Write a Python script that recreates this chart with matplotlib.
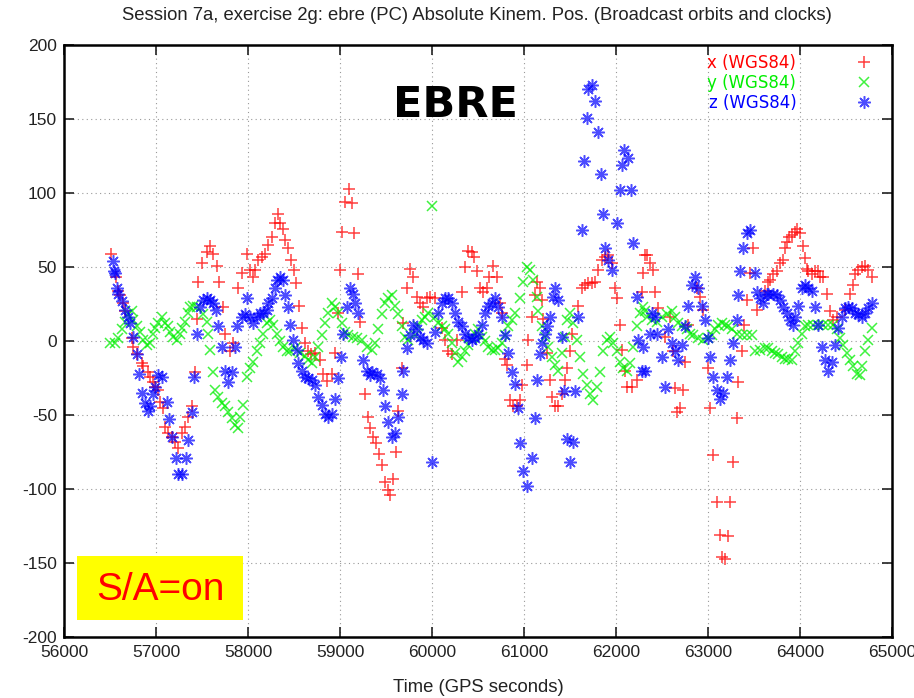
import matplotlib
matplotlib.use('Agg')
import matplotlib.pyplot as plt
from matplotlib.patches import Rectangle
from matplotlib import font_manager

# narrow gnuplot-like face if one is around, else Liberation Sans
names = {f.name for f in font_manager.fontManager.ttflist}
narrow = [n for n in ['Liberation Sans Narrow', 'DejaVu Sans Condensed', 'Liberation Sans'] if n in names]
plt.rcParams['font.family'] = narrow + ['DejaVu Sans']
plt.rcParams['axes.unicode_minus'] = False
is_narrow = bool(narrow) and narrow[0] != 'Liberation Sans'

# x (WGS84) -- red
x_t = [56511, 56565, 56587, 56609, 56641, 56663, 56739, 56750, 56793, 56848, 56859, 56913, 56935, 56967,
       56989, 57022, 57043, 57076, 57098, 57130, 57174, 57207, 57239, 57283, 57315, 57348, 57391, 57424,
       57446, 57457, 57500, 57554, 57587, 57620, 57663, 57685, 57728, 57750, 57804, 57837, 57891, 57935,
       57989, 58022, 58054, 58076, 58109, 58152, 58185, 58217, 58261, 58293, 58326, 58348, 58380, 58402,
       58435, 58467, 58500, 58522, 58554, 58587, 58620, 58652, 58685, 58728, 58783, 58815, 58859, 58913,
       58946, 58978, 59000, 59022, 59054, 59098, 59130, 59152, 59196, 59217, 59272, 59304, 59326, 59359,
       59391, 59424, 59457, 59489, 59522, 59543, 59576, 59609, 59630, 59674, 59685, 59728, 59761, 59793,
       59837, 59870, 59902, 59946, 59978, 60033, 60109, 60141, 60174, 60217, 60272, 60326, 60359, 60391,
       60435, 60457, 60489, 60522, 60554, 60598, 60620, 60663, 60707, 60739, 60761, 60794, 60815, 60848,
       60880, 60924, 60957, 60978, 61033, 61043, 61087, 61120, 61141, 61174, 61196, 61207, 61250, 61283,
       61304, 61337, 61370, 61413, 61446, 61467, 61500, 61522, 61587, 61630, 61663, 61696, 61739, 61772,
       61804, 61848, 61880, 61913, 61957, 61989, 62011, 62043, 62065, 62098, 62120, 62174, 62228, 62283,
       62293, 62315, 62337, 62370, 62402, 62424, 62457, 62533, 62587, 62620, 62641, 62663, 62696, 62728,
       62750, 62783, 62880, 62913, 62946, 63000, 63022, 63054, 63098, 63130, 63152, 63185, 63217, 63239,
       63272, 63315, 63326, 63370, 63391, 63424, 63457, 63489, 63533, 63620, 63652, 63674, 63707, 63750,
       63783, 63815, 63837, 63859, 63880, 63913, 63946, 63967, 64000, 64033, 64054, 64076, 64087, 64130,
       64163, 64196, 64217, 64250, 64293, 64326, 64359, 64402, 64489, 64543, 64576, 64598, 64630, 64674,
       64707, 64739, 64783]
x_val = [59, 43, 34, 31, 26, 20, 2, -4, -9, -15, -17, -21, -24, -28,
         -31, -33, -41, -45, -58, -62, -65, -68, -72, -62, -58, -51, -44, -21,
         15, 40, 53, 60, 64, 59, 51, 40, 23, 5, -7, -1, 36, 46,
         59, 48, 43, 48, 55, 57, 59, 65, 70, 80, 86, 80, 76, 68,
         63, 55, 48, 39, 24, 9, -1, -7, -9, -8, -13, -22, -27, -22,
         -8, 19, 48, 74, 94, 103, 93, 73, 45, 13, -36, -51, -59, -65,
         -69, -76, -84, -95, -101, -104, -93, -75, -47, -18, 12, 36, 49, 43,
         30, 26, 23, 29, 30, 29, 9, 1, -7, -9, 1, 33, 50, 61,
         60, 57, 47, 36, 33, 36, 43, 51, 43, 26, 19, -12, -16, -40,
         -44, -44, -40, -30, -16, 1, 16, 31, 40, 36, 28, 15, -8, -26,
         -38, -44, -44, -36, -26, -18, -7, 5, 24, 36, 38, 39, 39, 40,
         48, 55, 57, 58, 53, 36, 29, 11, -6, -20, -31, -31, -26, 33,
         46, 58, 58, 53, 48, 33, 22, 3, 16, -7, -32, -48, -45, -33,
         -14, 11, 36, 30, 21, -18, -45, -77, -109, -131, -146, -147, -132, -109,
         -82, -52, -28, -7, 11, 28, 46, 63, 21, 34, 40, 41, 45, 47,
         53, 55, 63, 67, 70, 72, 74, 76, 73, 64, 56, 49, 47, 45,
         47, 47, 43, 43, 32, 20, 14, 16, 21, 32, 38, 45, 48, 50,
         51, 48, 43]

# y (WGS84) -- green
y_t = [56500, 56554, 56587, 56630, 56663, 56696, 56739, 56750, 56793, 56826, 56859, 56902, 56935, 56967,
       56989, 57022, 57065, 57098, 57130, 57152, 57185, 57228, 57261, 57283, 57315, 57348, 57370, 57402,
       57446, 57511, 57554, 57565, 57587, 57620, 57641, 57674, 57717, 57750, 57783, 57826, 57859, 57891,
       57913, 57946, 57989, 58022, 58054, 58098, 58130, 58163, 58207, 58239, 58272, 58315, 58348, 58380,
       58424, 58457, 58511, 58565, 58620, 58652, 58696, 58728, 58761, 58804, 58837, 58870, 58913, 58946,
       58978, 59022, 59054, 59087, 59141, 59185, 59239, 59293, 59348, 59380, 59413, 59457, 59489, 59522,
       59565, 59598, 59630, 59674, 59707, 59739, 59815, 59848, 59891, 59924, 59957, 60000, 60033, 60065,
       60109, 60141, 60174, 60217, 60250, 60283, 60326, 60359, 60391, 60435, 60467, 60500, 60543, 60576,
       60609, 60652, 60685, 60717, 60761, 60794, 60826, 60870, 60902, 60957, 60989, 61033, 61065, 61098,
       61141, 61152, 61196, 61228, 61261, 61304, 61337, 61370, 61413, 61446, 61467, 61500, 61533, 61576,
       61609, 61641, 61685, 61717, 61750, 61793, 61826, 61859, 61902, 61935, 61967, 62011, 62043, 62076,
       62120, 62152, 62185, 62228, 62261, 62293, 62315, 62337, 62391, 62446, 62500, 62554, 62609, 62641,
       62674, 62717, 62772, 62804, 62837, 62891, 62946, 63000, 63043, 63076, 63109, 63152, 63185, 63217,
       63261, 63315, 63370, 63424, 63478, 63511, 63565, 63620, 63652, 63696, 63728, 63761, 63804, 63837,
       63870, 63913, 63946, 63978, 64022, 64054, 64087, 64141, 64196, 64250, 64304, 64359, 64402, 64435,
       64467, 64511, 64543, 64576, 64620, 64652, 64674, 64707, 64739, 64783]
y_val = [-1, -1, 2, 8, 13, 18, 20, 14, 10, 6, 1, -3, -1, 5,
         9, 12, 16, 12, 10, 6, 3, 1, 5, 9, 13, 19, 23, 24,
         23, 18, 13, 5, -6, -21, -33, -38, -42, -44, -48, -52, -57, -59,
         -51, -43, -24, -18, -14, -7, -1, 5, 12, 14, 11, 5, 0, -4,
         -7, -7, -5, -8, -10, -13, -15, -11, -4, 4, 12, 19, 26, 23,
         19, 12, 6, 4, 3, 2, 1, -4, -6, -1, 8, 18, 26, 29,
         31, 24, 18, 10, 3, 1, 4, 10, 14, 16, 19, 91, 16, 12,
         10, 8, 5, -1, -8, -14, -11, -7, -3, 2, 5, 8, 3, 0,
         -4, -6, -6, -5, -1, 4, 10, 14, 19, 29, 40, 50, 48, 41,
         30, 20, 10, 3, -4, -11, -16, -20, -8, 3, 14, 19, 12, 1,
         -11, -22, -30, -36, -40, -31, -21, -7, 1, 3, -1, -7, -14, -18,
         -20, -15, -4, 10, 19, 23, 20, 16, 14, 13, 16, 18, 20, 16,
         12, 10, 8, 5, 4, 2, 1, 2, 4, 8, 11, 12, 11, 10,
         8, 5, 4, 4, 4, -7, -6, -5, -5, -7, -8, -9, -11, -12,
         -12, -13, -7, -1, 5, 10, 11, 11, 11, 11, 11, 11, 8, 2,
         -3, -8, -13, -17, -22, -23, -17, -7, 1, 9]

# z (WGS84) -- blue
z_t = [56533, 56544, 56554, 56576, 56587, 56630, 56663, 56696, 56717, 56750, 56793, 56815, 56848, 56880,
       56913, 56935, 56967, 56989, 57022, 57065, 57120, 57141, 57174, 57217, 57239, 57283, 57326, 57348,
       57391, 57413, 57446, 57478, 57511, 57554, 57587, 57620, 57652, 57674, 57717, 57750, 57783, 57826,
       57859, 57880, 57935, 57967, 57989, 58022, 58054, 58098, 58130, 58163, 58207, 58217, 58261, 58293,
       58315, 58348, 58380, 58402, 58435, 58457, 58489, 58533, 58543, 58587, 58620, 58652, 58696, 58728,
       58761, 58804, 58837, 58870, 58913, 58946, 58978, 59011, 59033, 59076, 59109, 59141, 59163, 59196,
       59250, 59293, 59326, 59348, 59402, 59435, 59467, 59489, 59522, 59565, 59598, 59630, 59674, 59685,
       59728, 59761, 59793, 59837, 59870, 59902, 59946, 60000, 60033, 60065, 60109, 60141, 60174, 60217,
       60250, 60283, 60326, 60359, 60391, 60435, 60467, 60500, 60543, 60576, 60609, 60652, 60685, 60717,
       60761, 60794, 60826, 60870, 60902, 60935, 60957, 60989, 61033, 61087, 61120, 61141, 61174, 61196,
       61228, 61250, 61283, 61315, 61337, 61370, 61413, 61435, 61467, 61500, 61533, 61554, 61587, 61630,
       61652, 61685, 61696, 61739, 61772, 61804, 61837, 61859, 61880, 61913, 61957, 62011, 62043, 62065,
       62087, 62130, 62163, 62185, 62228, 62239, 62283, 62293, 62315, 62370, 62391, 62424, 62446, 62500,
       62533, 62565, 62609, 62641, 62674, 62717, 62750, 62783, 62826, 62859, 62891, 62935, 62967, 63000,
       63022, 63054, 63098, 63130, 63163, 63207, 63239, 63272, 63315, 63326, 63348, 63380, 63424, 63457,
       63511, 63533, 63565, 63598, 63641, 63652, 63707, 63750, 63783, 63815, 63859, 63891, 63924, 63946,
       63978, 64022, 64054, 64087, 64130, 64163, 64196, 64239, 64272, 64304, 64348, 64380, 64413, 64457,
       64489, 64522, 64565, 64598, 64630, 64674, 64707, 64739, 64783]
z_val = [54, 47, 46, 36, 32, 27, 21, 16, 12, 3, -9, -22, -35, -42,
         -47, -44, -36, -31, -23, -24, -41, -53, -65, -79, -90, -90, -79, -67,
         -48, -24, 5, 23, 28, 29, 28, 26, 21, 10, -4, -20, -28, -21,
         -4, 10, 16, 18, 29, 16, 12, 16, 19, 19, 21, 26, 29, 36,
         41, 43, 41, 31, 23, 11, 1, -6, -15, -20, -24, -25, -26, -30,
         -38, -43, -49, -51, -49, -39, -25, -11, 5, 23, 36, 32, 26, 19,
         -13, -20, -23, -21, -22, -25, -33, -44, -55, -65, -62, -51, -36, -20,
         -5, 4, 11, 8, 3, 1, -1, -82, 6, 19, 26, 29, 29, 26,
         19, 13, 10, 5, 2, 1, 2, 5, 11, 19, 24, 26, 29, 23,
         16, 4, -8, -21, -29, -45, -69, -88, -98, -79, -52, -26, -9, -1,
         5, 10, 16, 30, 36, 28, 3, -34, -66, -82, -68, -34, 16, 75,
         122, 151, 170, 173, 162, 141, 113, 86, 63, 55, 48, 80, 102, 119,
         129, 124, 102, 66, 30, 1, -20, -4, -20, 5, 19, 16, 5, -11,
         -31, 8, -1, -7, -13, -3, 10, 24, 38, 43, 36, 24, 14, 2,
         -11, -24, -33, -39, -35, -24, -13, -1, 14, 31, 47, 63, 73, 75,
         46, 33, 29, 26, 32, 32, 32, 31, 28, 23, 19, 14, 11, 16,
         24, 36, 38, 36, 34, 23, 11, -4, -13, -20, -14, -3, 9, 16,
         22, 23, 22, 19, 18, 16, 19, 22, 26]

x_ticks = [56000, 57000, 58000, 59000, 60000, 61000, 62000, 63000, 64000, 65000]
y_ticks = [-200, -150, -100, -50, 0, 50, 100, 150, 200]

tick_fs = 13.5 if is_narrow else 12.5
title_fs = 15 if is_narrow else 13.3
sa_fs = 32 if is_narrow else 28

fig = plt.figure(figsize=(9.14, 6.98), dpi=100)
ax = fig.add_axes([0.070, 0.0874, 0.906, 0.848])

ax.plot(x_t, x_val, ls='none', marker='+', ms=9, mew=1.1, color='#ff0000', alpha=0.75, label='x (WGS84)')
ax.plot(y_t, y_val, ls='none', marker='x', ms=7, mew=1.1, color='#00ee00', alpha=0.75, label='y (WGS84)')
ax.plot(z_t, z_val, ls='none', marker=(8, 2, 0), ms=9, mew=1.1, color='#0000ff', alpha=0.7, label='z (WGS84)')

ax.set_xlim(56000, 65000)
ax.set_ylim(-200, 200)
ax.set_xticks(x_ticks)
ax.set_yticks(y_ticks)
ax.grid(True, linestyle=(0, (1, 3)), color='#999999', linewidth=0.8)
ax.set_axisbelow(True)
ax.tick_params(direction='in', length=7, width=1.2, top=True, right=True, labelsize=tick_fs,
               colors='#222222', pad=6)
ax.tick_params(axis='y', pad=5)
for s in ax.spines.values():
    s.set_linewidth(1.8)

leg = ax.legend(loc='upper right', bbox_to_anchor=(0.981, 0.985), markerfirst=False, frameon=False,
                prop={'family': 'DejaVu Sans', 'size': 12}, handlelength=1.5, handletextpad=3.3,
                labelspacing=0.12, borderpad=0, borderaxespad=0, labelcolor='linecolor')

fig.text(477 / 914, 1 - 15 / 698, 'Session 7a, exercise 2g: ebre (PC) Absolute Kinem. Pos. (Broadcast orbits and clocks)',
         ha='center', va='center', fontsize=title_fs, color='#222222')
fig.text(478 / 914, 1 - 688 / 698, 'Time (GPS seconds)', ha='center', va='center', fontsize=title_fs,
         color='#222222')

fig.text(455 / 914, 1 - 105 / 698, 'EBRE', ha='center', va='center', fontsize=31, fontweight='bold',
         family='DejaVu Sans', color='black')

fig.patches.append(Rectangle((77 / 914, 1 - 620 / 698), 166 / 914, 64 / 698, transform=fig.transFigure,
                             facecolor='#ffff00', edgecolor='none', zorder=5))
fig.text(160 / 914, 1 - 590 / 698, 'S/A=on', ha='center', va='center', fontsize=sa_fs, color='#ff0000', zorder=6)

plt.savefig('out.png', dpi=100)
